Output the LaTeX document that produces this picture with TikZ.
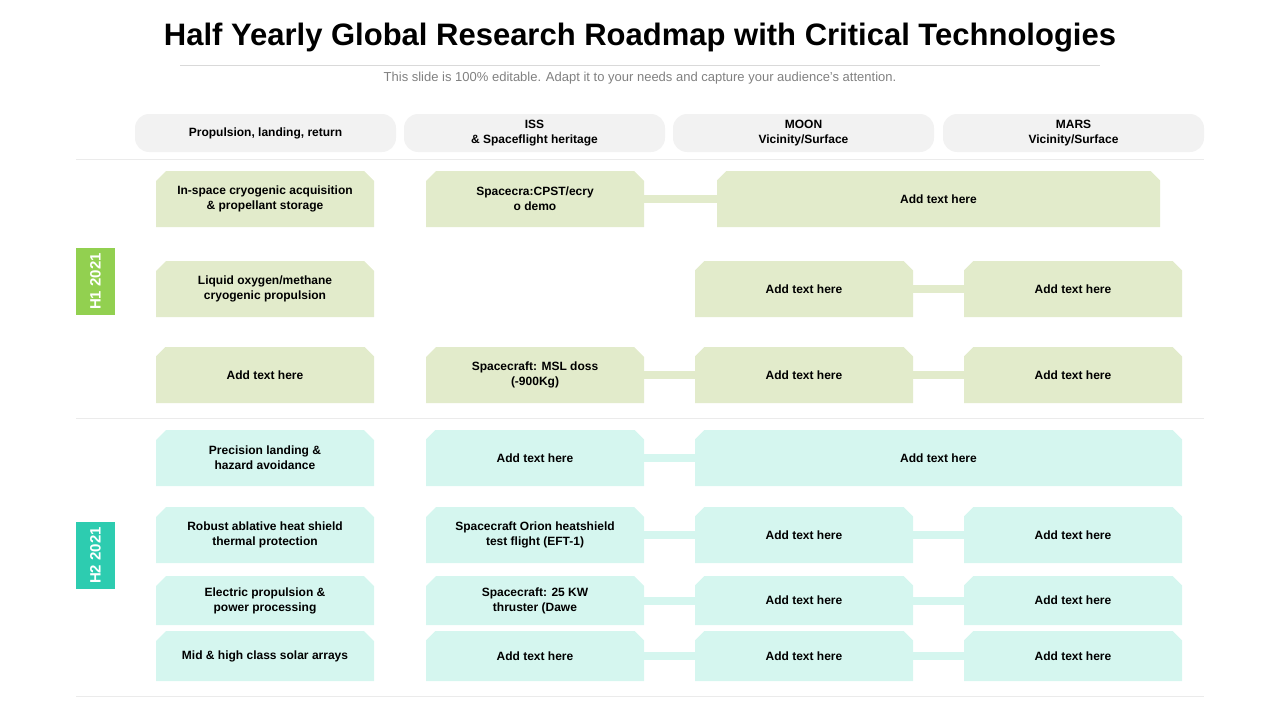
\documentclass[tikz,border=0pt]{standalone}
\usepackage{fontspec}
\setmainfont{Liberation Sans}
\usetikzlibrary{shapes.misc}
\definecolor{gbox}{HTML}{E2EBCB}
\definecolor{tbox}{HTML}{D5F6EF}
\definecolor{gtag}{HTML}{92D050}
\definecolor{ttag}{HTML}{2DCCB0}
\definecolor{tabc}{HTML}{F2F2F2}
\tikzset{
  cell/.style={chamfered rectangle, chamfered rectangle corners={north east,north west},
    chamfered rectangle xsep=5pt, chamfered rectangle ysep=5pt,
    minimum width=218pt, minimum height=56pt, inner sep=0pt, align=center,
    font=\fontsize{12}{15}\selectfont\bfseries},
  gcell/.style={cell, fill=gbox},
  tcell/.style={cell, fill=tbox},
  glink/.style={gbox, line width=8pt},
  tlink/.style={tbox, line width=8pt},
  tag/.style={minimum width=67pt, minimum height=39pt, inner sep=0pt, text=white,
    font=\fontsize{15}{18}\selectfont\bfseries, rotate=90},
}
\begin{document}
\begin{tikzpicture}[x=1pt,y=-1pt]
\useasboundingbox (0,0) rectangle (1280,720);

\node(title) at (640,38) {\fontsize{31}{36}\selectfont\bfseries Half Yearly Global Research Roadmap with Critical Technologies};
\draw[black!15] (180,65) -- (1100,65);
\node(sub) at (640,78) [text=black!50, font=\fontsize{13}{15}\selectfont] {This slide is 100\% editable. Adapt it to your needs and capture your audience's attention.};

% column tabs
\foreach \x/\txt in {135/{Propulsion, landing, return},404/{ISS\\\& Spaceflight heritage},673/{MOON\\Vicinity/Surface},943/{MARS\\Vicinity/Surface}}{
  \fill[tabc,rounded corners=14pt] (\x,152) -- (\x,114) -- (\x+261,114) -- (\x+261,152) -- cycle;
  \node[align=center, font=\fontsize{12}{15}\selectfont\bfseries] at (\x+130.5,133) {\txt};
}

\draw[black!8] (76,159) -- (1204,159);
\draw[black!8] (76,418) -- (1204,418);
\draw[black!8] (76,696) -- (1204,696);

\node(h1) at (95.5,281.5) [tag, fill=gtag] {H1 2021};
\node(h2) at (95.5,555.5) [tag, fill=ttag] {H2 2021};

% H1 rows
\node(a1) at (265,199) [gcell] {In-space cryogenic acquisition\\\& propellant storage};
\node(a2) at (535,199) [gcell] {Spacecra:CPST/ecry\\o demo};
\node(a3) at (938.5,199) [gcell, minimum width=443pt] {Add text here};
\draw[glink] (a2.east) -- (a3.west);

\node(b1) at (265,289) [gcell] {Liquid oxygen/methane\\cryogenic propulsion};
\node(b3) at (804,289) [gcell] {Add text here};
\node(b4) at (1073,289) [gcell] {Add text here};
\draw[glink] (b3.east) -- (b4.west);

\node(c1) at (265,375) [gcell] {Add text here};
\node(c2) at (535,375) [gcell] {Spacecraft: MSL doss\\(-900Kg)};
\node(c3) at (804,375) [gcell] {Add text here};
\node(c4) at (1073,375) [gcell] {Add text here};
\draw[glink] (c2.east) -- (c3.west);
\draw[glink] (c3.east) -- (c4.west);

% H2 rows
\node(d1) at (265,458) [tcell] {Precision landing \&\\hazard avoidance};
\node(d2) at (535,458) [tcell] {Add text here};
\node(d3) at (938.5,458) [tcell, minimum width=487pt] {Add text here};
\draw[tlink] (d2.east) -- (d3.west);

\node(e1) at (265,535) [tcell] {Robust ablative heat shield\\thermal protection};
\node(e2) at (535,535) [tcell] {Spacecraft Orion heatshield\\test flight (EFT-1)};
\node(e3) at (804,535) [tcell] {Add text here};
\node(e4) at (1073,535) [tcell] {Add text here};
\draw[tlink] (e2.east) -- (e3.west);
\draw[tlink] (e3.east) -- (e4.west);

\node(f1) at (265,600.5) [tcell, minimum height=49pt] {Electric propulsion \&\\power processing};
\node(f2) at (535,600.5) [tcell, minimum height=49pt] {Spacecraft: 25 KW\\thruster (Dawe};
\node(f3) at (804,600.5) [tcell, minimum height=49pt] {Add text here};
\node(f4) at (1073,600.5) [tcell, minimum height=49pt] {Add text here};
\draw[tlink] (f2.east) -- (f3.west);
\draw[tlink] (f3.east) -- (f4.west);

\node(g1) at (265,656) [tcell, minimum height=50pt] {Mid \& high class solar arrays};
\node(g2) at (535,656) [tcell, minimum height=50pt] {Add text here};
\node(g3) at (804,656) [tcell, minimum height=50pt] {Add text here};
\node(g4) at (1073,656) [tcell, minimum height=50pt] {Add text here};
\draw[tlink] (g2.east) -- (g3.west);
\draw[tlink] (g3.east) -- (g4.west);

\end{tikzpicture}
\end{document}
